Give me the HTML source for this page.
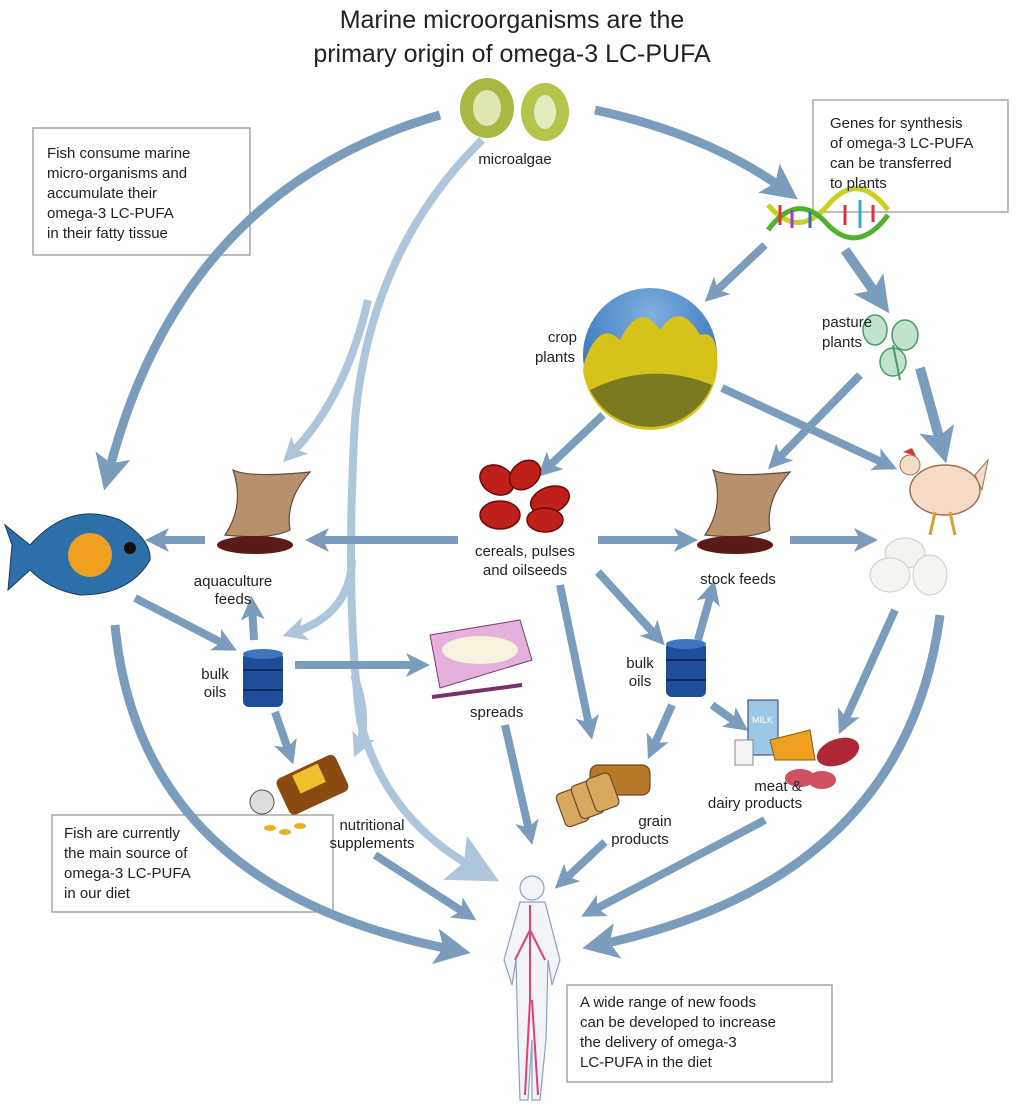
<!DOCTYPE html>
<html><head><meta charset="utf-8"><style>
html,body{margin:0;padding:0;background:#fff}
svg{display:block}
text{font-family:"Liberation Sans",sans-serif;fill:#222}
</style></head><body>
<svg width="1024" height="1110" viewBox="0 0 1024 1110" xmlns="http://www.w3.org/2000/svg">
<defs>
<marker id="a" markerUnits="userSpaceOnUse" markerWidth="30" markerHeight="30" refX="14" refY="12" orient="auto" viewBox="0 0 30 24"><path d="M0,0 L24,12 L0,24 L6,12 Z" fill="#7b9dbd"/></marker>
<marker id="b" markerUnits="userSpaceOnUse" markerWidth="44" markerHeight="44" refX="20" refY="18" orient="auto" viewBox="0 0 44 36"><path d="M0,0 L36,18 L0,36 L8,18 Z" fill="#7b9dbd"/></marker>
<marker id="l" markerUnits="userSpaceOnUse" markerWidth="30" markerHeight="30" refX="14" refY="12" orient="auto" viewBox="0 0 30 24"><path d="M0,0 L24,12 L0,24 L6,12 Z" fill="#adc6dc"/></marker>
<marker id="lb" markerUnits="userSpaceOnUse" markerWidth="60" markerHeight="60" refX="26" refY="25" orient="auto" viewBox="0 0 60 50"><path d="M0,0 L50,25 L0,50 L10,25 Z" fill="#adc6dc"/></marker>
<radialGradient id="sky" cx="50%" cy="20%" r="70%"><stop offset="0" stop-color="#7fb0e0"/><stop offset="1" stop-color="#2f6fb8"/></radialGradient>
</defs>

<text x="512" y="28" font-size="25" text-anchor="middle">Marine microorganisms are the</text>
<text x="512" y="62" font-size="25" text-anchor="middle">primary origin of omega-3 LC-PUFA</text>

<rect x="33" y="128" width="217" height="127" fill="#fff" stroke="#999" stroke-width="1.3"/>
<rect x="813" y="100" width="195" height="112" fill="#fff" stroke="#999" stroke-width="1.3"/>
<rect x="52" y="815" width="281" height="97" fill="#fff" stroke="#999" stroke-width="1.3"/>
<rect x="567" y="985" width="265" height="97" fill="#fff" stroke="#999" stroke-width="1.3"/>

<g fill="none" stroke="#adc6dc" stroke-width="8">
<path d="M482,140 Q370,250 355,420 Q345,600 360,720 Q385,820 478,870" marker-end="url(#lb)"/>
<path d="M368,300 Q345,400 290,455" marker-end="url(#l)"/>
<path d="M352,560 Q350,615 292,633" marker-end="url(#l)"/>
<path d="M354,675 Q370,720 358,748" marker-end="url(#l)"/>
</g>

<g fill="none" stroke="#7b9dbd" stroke-width="8">
<path d="M440,115 Q180,190 108,475" stroke-width="9" marker-end="url(#b)"/>
<path d="M595,110 Q710,135 785,190" stroke-width="9" marker-end="url(#b)"/>
<path d="M765,245 L712,295" marker-end="url(#a)"/>
<path d="M845,250 L880,300" stroke-width="10" marker-end="url(#b)"/>
<path d="M920,368 L942,448" stroke-width="10" marker-end="url(#b)"/>
<path d="M860,375 L775,462" marker-end="url(#a)"/>
<path d="M722,388 L888,465" marker-end="url(#a)"/>
<path d="M603,415 L545,470" marker-end="url(#a)"/>
<path d="M458,540 L315,540" marker-end="url(#a)"/>
<path d="M205,540 L155,540" marker-end="url(#a)"/>
<path d="M598,540 L688,540" marker-end="url(#a)"/>
<path d="M790,540 L868,540" marker-end="url(#a)"/>
<path d="M135,598 L228,646" marker-end="url(#a)"/>
<path d="M254,640 L252,606" marker-end="url(#a)"/>
<path d="M698,640 L712,590" marker-end="url(#a)"/>
<path d="M598,572 L658,638" marker-end="url(#a)"/>
<path d="M560,585 L590,730" marker-end="url(#a)"/>
<path d="M295,665 L420,665" marker-end="url(#a)"/>
<path d="M275,712 L290,755" marker-end="url(#a)"/>
<path d="M672,705 L652,750" marker-end="url(#a)"/>
<path d="M712,705 L740,725" marker-end="url(#a)"/>
<path d="M895,610 L843,725" marker-end="url(#a)"/>
<path d="M505,725 L530,835" marker-end="url(#a)"/>
<path d="M375,855 L468,915" marker-end="url(#a)"/>
<path d="M605,842 L562,882" marker-end="url(#a)"/>
<path d="M765,820 L590,912" marker-end="url(#a)"/>
<path d="M115,625 Q140,890 455,950" stroke-width="9" marker-end="url(#b)"/>
<path d="M940,615 Q905,880 598,945" stroke-width="9" marker-end="url(#b)"/>
</g>

<ellipse cx="487" cy="108" rx="27" ry="30" fill="#a8b840"/>
<ellipse cx="487" cy="108" rx="14" ry="18" fill="#dfe6b0"/>
<ellipse cx="545" cy="112" rx="24" ry="29" fill="#b5c44a"/>
<ellipse cx="545" cy="112" rx="11" ry="17" fill="#e3ebc0"/>
<text x="515" y="164" font-size="15" text-anchor="middle">microalgae</text>

<g stroke-width="5" fill="none">
<path d="M768,205 Q798,240 828,205 Q858,170 888,210" stroke="#c8d020"/>
<path d="M768,230 Q798,190 828,225 Q858,255 888,215" stroke="#50b030"/>
</g>
<g stroke-width="3"><line x1="780" y1="205" x2="780" y2="225" stroke="#d33"/><line x1="792" y1="210" x2="792" y2="228" stroke="#a3c"/><line x1="810" y1="212" x2="810" y2="228" stroke="#36c"/><line x1="845" y1="205" x2="845" y2="225" stroke="#d33"/><line x1="860" y1="200" x2="860" y2="228" stroke="#3ac"/><line x1="873" y1="205" x2="873" y2="222" stroke="#d33"/></g>

<circle cx="650" cy="355" r="67" fill="url(#sky)"/>
<path d="M585,360 Q600,320 620,340 Q640,300 660,330 Q680,300 700,335 Q715,330 717,355 A67,67 0 0 1 583,370 Z" fill="#d7c21a"/>
<path d="M590,390 Q650,360 712,385 A67,67 0 0 1 590,390 Z" fill="#7a7a20"/>
<text x="577" y="342" font-size="15" text-anchor="end">crop</text>
<text x="575" y="362" font-size="15" text-anchor="end">plants</text>

<g fill="#bfe3cc" stroke="#4a9a6a" stroke-width="1.5">
<ellipse cx="875" cy="330" rx="12" ry="15"/><ellipse cx="905" cy="335" rx="13" ry="15"/><ellipse cx="893" cy="362" rx="13" ry="14"/>
</g>
<line x1="893" y1="345" x2="900" y2="380" stroke="#4a9a6a" stroke-width="2"/>
<text x="822" y="327" font-size="15">pasture</text>
<text x="822" y="347" font-size="15">plants</text>

<ellipse cx="945" cy="490" rx="35" ry="25" fill="#f4dcc6" stroke="#a07050" stroke-width="1.5"/>
<path d="M975,475 L988,460 L982,490 Z" fill="#f4dcc6" stroke="#a07050"/>
<circle cx="910" cy="465" r="10" fill="#f4dcc6" stroke="#a07050"/>
<path d="M903,452 L912,448 L916,456 Z" fill="#d33"/>
<path d="M935,512 L930,535 M950,512 L955,535" stroke="#d9a030" stroke-width="3"/>

<ellipse cx="905" cy="553" rx="20" ry="15" fill="#f2f2ee" stroke="#ccc"/>
<ellipse cx="890" cy="575" rx="20" ry="17" fill="#f4f4f0" stroke="#ccc"/>
<ellipse cx="930" cy="575" rx="17" ry="20" fill="#f4f4f0" stroke="#ccc"/>

<g fill="#c0201a" stroke="#6a0a08" stroke-width="1.5">
<ellipse cx="497" cy="480" rx="18" ry="14" transform="rotate(30 497 480)"/>
<ellipse cx="525" cy="475" rx="17" ry="13" transform="rotate(-40 525 475)"/>
<ellipse cx="550" cy="500" rx="20" ry="13" transform="rotate(-20 550 500)"/>
<ellipse cx="500" cy="515" rx="20" ry="14"/>
<ellipse cx="545" cy="520" rx="18" ry="12"/>
</g>
<text x="525" y="556" font-size="15" text-anchor="middle">cereals, pulses</text>
<text x="525" y="575" font-size="15" text-anchor="middle">and oilseeds</text>

<g fill="#b8906c" stroke="#6a4a30" stroke-width="1.2">
<path d="M233,470 Q250,478 310,472 Q285,500 290,530 Q270,540 225,535 Q245,505 233,470 Z"/>
<path d="M713,470 Q730,478 790,472 Q765,500 770,530 Q750,540 705,535 Q725,505 713,470 Z"/>
</g>
<g fill="#5a1a18">
<ellipse cx="255" cy="545" rx="38" ry="9"/><ellipse cx="735" cy="545" rx="38" ry="9"/>
</g>
<text x="233" y="586" font-size="15" text-anchor="middle">aquaculture</text>
<text x="233" y="604" font-size="15" text-anchor="middle">feeds</text>
<text x="738" y="584" font-size="15" text-anchor="middle">stock feeds</text>

<path d="M30,545 Q70,500 120,520 Q152,540 150,560 Q130,595 80,595 Q50,590 30,570 L8,590 L12,545 L5,525 Z" fill="#2d6fa8" stroke="#1a3a60"/>
<ellipse cx="90" cy="555" rx="22" ry="22" fill="#f0a020"/>
<circle cx="130" cy="548" r="6" fill="#111"/>

<g>
<rect x="243" y="652" width="40" height="55" rx="6" fill="#1e4e9a"/>
<ellipse cx="263" cy="654" rx="20" ry="5" fill="#3e74c0"/>
<line x1="243" y1="670" x2="283" y2="670" stroke="#0c2a5a" stroke-width="2"/>
<line x1="243" y1="690" x2="283" y2="690" stroke="#0c2a5a" stroke-width="2"/>
<rect x="666" y="642" width="40" height="55" rx="6" fill="#1e4e9a"/>
<ellipse cx="686" cy="644" rx="20" ry="5" fill="#3e74c0"/>
<line x1="666" y1="660" x2="706" y2="660" stroke="#0c2a5a" stroke-width="2"/>
<line x1="666" y1="680" x2="706" y2="680" stroke="#0c2a5a" stroke-width="2"/>
</g>
<text x="215" y="679" font-size="15" text-anchor="middle">bulk</text>
<text x="215" y="697" font-size="15" text-anchor="middle">oils</text>
<text x="640" y="668" font-size="15" text-anchor="middle">bulk</text>
<text x="640" y="686" font-size="15" text-anchor="middle">oils</text>

<path d="M430,635 L520,620 L532,660 L440,688 Z" fill="#e6b0dc" stroke="#7a3a70"/>
<ellipse cx="480" cy="650" rx="38" ry="14" fill="#f6f2dc"/>
<line x1="432" y1="697" x2="522" y2="685" stroke="#7a3070" stroke-width="4"/>
<text x="470" y="717" font-size="15">spreads</text>

<rect x="280" y="765" width="65" height="40" rx="6" fill="#8a4a10" transform="rotate(-25 312 785)"/>
<rect x="298" y="768" width="28" height="20" fill="#f0c030" transform="rotate(-25 312 785)"/>
<circle cx="262" cy="802" r="12" fill="#ddd" stroke="#555"/>
<g fill="#e8b020"><ellipse cx="270" cy="828" rx="6" ry="3"/><ellipse cx="285" cy="832" rx="6" ry="3"/><ellipse cx="300" cy="826" rx="6" ry="3"/></g>
<text x="372" y="830" font-size="15" text-anchor="middle">nutritional</text>
<text x="372" y="848" font-size="15" text-anchor="middle">supplements</text>

<g fill="#d9a860" stroke="#6a4a20" stroke-width="1.2">
<rect x="590" y="765" width="60" height="30" rx="8" fill="#b8782a"/>
<rect x="560" y="790" width="25" height="35" rx="5" transform="rotate(-20 572 807)"/>
<rect x="575" y="782" width="25" height="35" rx="5" transform="rotate(-20 587 799)"/>
<rect x="590" y="775" width="25" height="35" rx="5" transform="rotate(-20 602 792)"/>
</g>
<text x="655" y="826" font-size="15" text-anchor="middle">grain</text>
<text x="640" y="844" font-size="15" text-anchor="middle">products</text>

<rect x="748" y="700" width="30" height="55" fill="#9cc8e8" stroke="#336"/>
<text x="752" y="723" font-size="9" style="fill:#fff">MILK</text>
<rect x="735" y="740" width="18" height="25" fill="#f4f4f4" stroke="#888"/>
<path d="M770,740 L810,730 L815,760 L775,760 Z" fill="#f0a020" stroke="#8a5a10"/>
<ellipse cx="838" cy="752" rx="22" ry="13" fill="#b02838" transform="rotate(-20 838 752)"/>
<ellipse cx="800" cy="778" rx="15" ry="9" fill="#d05060"/><ellipse cx="822" cy="780" rx="14" ry="9" fill="#d05060"/>
<text x="778" y="791" font-size="15" text-anchor="middle">meat &amp;</text>
<text x="755" y="808" font-size="15" text-anchor="middle">dairy products</text>

<g fill="#f2f4f8" stroke="#8aa0c0" stroke-width="1.2">
<circle cx="532" cy="888" r="12"/>
<path d="M520,902 L545,902 L560,960 L552,985 L548,960 L546,1040 L540,1100 L532,1100 L532,1040 L528,1100 L520,1100 L518,1040 L516,960 L512,985 L504,960 Z"/>
</g>
<path d="M530,905 L530,1000 M530,930 L545,960 M530,930 L515,960 M530,1000 L525,1095 M532,1000 L538,1095" stroke="#e0407a" stroke-width="2" fill="none"/>

<g font-size="15">
<text x="47" y="158">Fish consume marine</text>
<text x="47" y="178">micro-organisms and</text>
<text x="47" y="198">accumulate their</text>
<text x="47" y="218">omega-3 LC-PUFA</text>
<text x="47" y="238">in their fatty tissue</text>
<text x="830" y="128">Genes for synthesis</text>
<text x="830" y="148">of omega-3 LC-PUFA</text>
<text x="830" y="168">can be transferred</text>
<text x="830" y="188">to plants</text>
<text x="64" y="838">Fish are currently</text>
<text x="64" y="858">the main source of</text>
<text x="64" y="878">omega-3 LC-PUFA</text>
<text x="64" y="898">in our diet</text>
<text x="580" y="1007">A wide range of new foods</text>
<text x="580" y="1027">can be developed to increase</text>
<text x="580" y="1047">the delivery of omega-3</text>
<text x="580" y="1067">LC-PUFA in the diet</text>
</g>
</svg>
</body></html>
